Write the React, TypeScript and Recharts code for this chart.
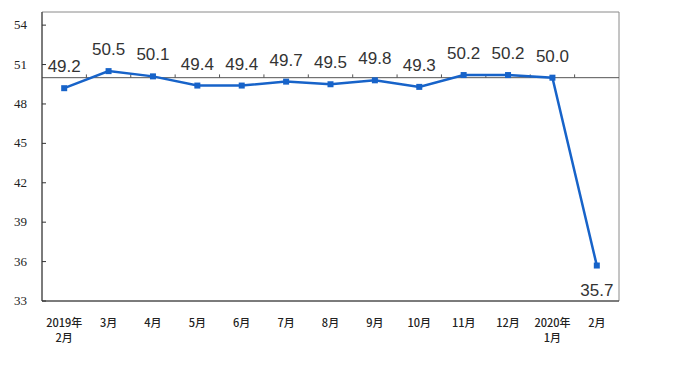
import React from "react";
import {
  LineChart,
  Line,
  XAxis,
  YAxis,
  ReferenceLine,
  ReferenceArea,
  LabelList,
} from "recharts";

// PMI by month, Feb 2019 .. Feb 2020
const months = [
  ["2019年", "2月"],
  ["3月"],
  ["4月"],
  ["5月"],
  ["6月"],
  ["7月"],
  ["8月"],
  ["9月"],
  ["10月"],
  ["11月"],
  ["12月"],
  ["2020年", "1月"],
  ["2月"],
];
const pmi = [49.2, 50.5, 50.1, 49.4, 49.4, 49.7, 49.5, 49.8, 49.3, 50.2, 50.2, 50.0, 35.7];
const yTicks = [33, 36, 39, 42, 45, 48, 51, 54];

const BLUE = "#1763c9";

const data = pmi.map((v, i) => ({ x: i, v }));
const xTicks = data.map((d) => d.x);
// small tick marks on the 50 line, between categories
const bounds = months.slice(1).map((_, i) => i + 0.5);

const XTick = ({ x, y, payload }: any) => {
  const lines = months[payload.value] || [];
  return (
    <text
      x={x}
      y={y}
      textAnchor="middle"
      fill="#222"
      fontSize={11}
      fontWeight={500}
      fontFamily="'Noto Sans CJK SC', sans-serif"
    >
      {lines.map((t: string, i: number) => (
        <tspan key={i} x={x} dy={i === 0 ? 12 : 15}>
          {t}
        </tspan>
      ))}
    </text>
  );
};

const YTick = ({ x, y, payload }: any) => (
  <g>
    <line x1={x + 14} x2={x + 18} y1={y} y2={y} stroke="#333" />
    <text
      x={x - 1}
      y={y + 4}
      textAnchor="end"
      fill="#222"
      style={{ fontFamily: "'Liberation Serif', serif", fontSize: 13 }}
    >
      {payload.value}
    </text>
  </g>
);

const Square = ({ cx, cy }: any) => (
  <rect x={cx - 3} y={cy - 3} width={6} height={6} fill={BLUE} />
);

const ValueLabel = ({ x, y, value, index }: any) => {
  const last = index === pmi.length - 1;
  return (
    <text
      x={x}
      y={last ? y + 30 : y - 16}
      textAnchor="middle"
      fill="#333"
      fontSize={17}
      fontFamily="'Liberation Sans', Arial, sans-serif"
    >
      {Number(value).toFixed(1)}
    </text>
  );
};

export default function App() {
  return (
    <div style={{ position: "absolute", left: 0, top: 0, background: "#fff" }}>
      <LineChart
        width={680}
        height={372}
        data={data}
        margin={{ top: 12, right: 61, bottom: 0, left: 0 }}
      >
        <ReferenceArea
          x1={-0.5}
          x2={12.5}
          y1={33}
          y2={55}
          fill="none"
          fillOpacity={0}
          stroke="#8a8a8a"
          strokeWidth={1}
        />
        <XAxis
          type="number"
          dataKey="x"
          domain={[-0.5, 12.5]}
          ticks={xTicks}
          interval={0}
          height={71}
          axisLine={{ stroke: "#333" }}
          tickLine={false}
          tickSize={0}
          tickMargin={14}
          tick={<XTick />}
        />
        <YAxis
          domain={[33, 55]}
          ticks={yTicks}
          width={42}
          axisLine={{ stroke: "#333" }}
          tickLine={false}
          tickSize={0}
          tickMargin={14}
          tick={<YTick />}
        />
        <ReferenceLine y={50} stroke="#555" strokeWidth={1} />
        {bounds.map((b) => (
          <ReferenceLine
            key={b}
            segment={[
              { x: b, y: 50 },
              { x: b, y: 50.25 },
            ]}
            stroke="#555"
          />
        ))}
        <Line
          dataKey="v"
          stroke={BLUE}
          strokeWidth={2.5}
          dot={<Square />}
          activeDot={false}
          isAnimationActive={false}
        >
          <LabelList dataKey="v" content={<ValueLabel />} />
        </Line>
      </LineChart>
    </div>
  );
}
